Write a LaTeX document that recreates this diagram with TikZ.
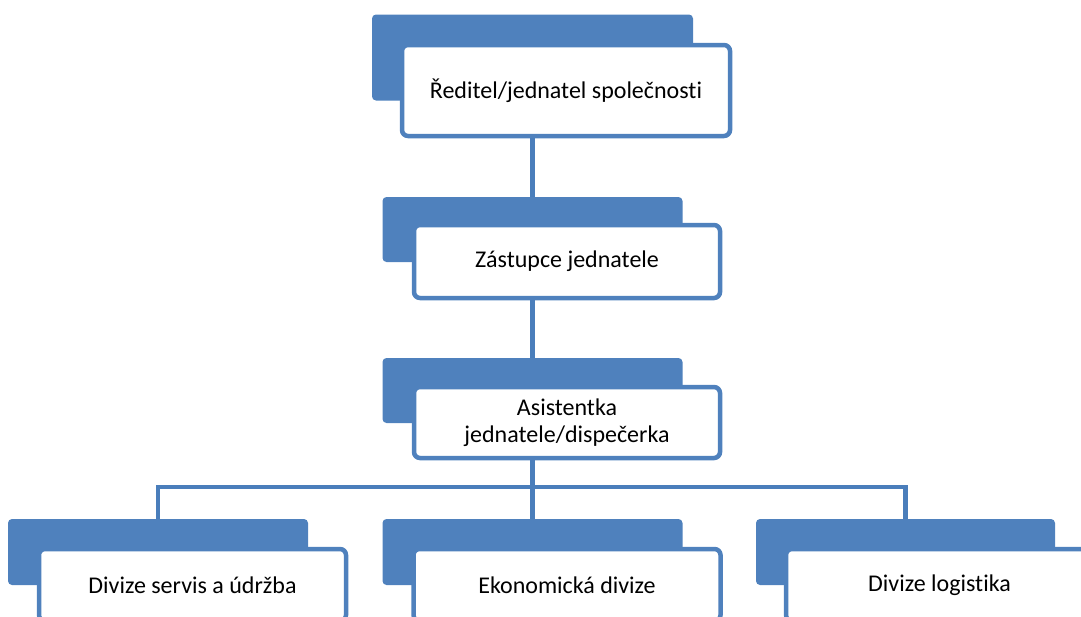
\documentclass[tikz,border=0pt]{standalone}
\usepackage{fontspec}
\setmainfont[Ligatures=NoCommon]{Carlito}
\definecolor{accblue}{HTML}{4F81BD}
\definecolor{linkblue}{HTML}{4A7EBB}
\tikzset{
  backbox/.style={fill=accblue, draw=none, rounded corners=4pt, inner sep=0pt},
  frontbox/.style={fill=white, draw=accblue, line width=4.5pt, rounded corners=6pt, inner sep=0pt, align=center, font=\fontsize{24}{27}\selectfont},
  link/.style={draw=linkblue, line width=4.5pt}
}
\begin{document}
\begin{tikzpicture}[x=1pt,y=-1pt]
\useasboundingbox (0,0) rectangle (1081,616);
\clip (0,0) rectangle (1081,616);
% level 1
\node[backbox, minimum width=321pt, minimum height=86pt] (b1) at (532.5,57.5) {};
\node[frontbox, minimum width=328pt, minimum height=91pt] (w1) at (566,90.5) {Ředitel/jednatel společnosti};
% level 2
\node[backbox, minimum width=300pt, minimum height=65pt] (b2) at (532.5,229.5) {};
\node[frontbox, minimum width=306pt, minimum height=73pt] (w2) at (567,261.5) {Zástupce jednatele};
% level 3
\node[backbox, minimum width=300pt, minimum height=65pt] (b3) at (532.5,390.5) {};
\node[frontbox, minimum width=306pt, minimum height=71pt] (w3) at (567,422.5) {Asistentka\\jednatele/dispečerka};
% level 4
\node[backbox, minimum width=300pt, minimum height=66pt] (b4) at (158,552) {};
\node[frontbox, minimum width=307pt, minimum height=72pt] (w4) at (192.5,585) {Divize servis a údržba};
\node[backbox, minimum width=300pt, minimum height=66pt] (b5) at (532.5,552) {};
\node[frontbox, minimum width=307pt, minimum height=72pt] (w5) at (567,585) {Ekonomická divize};
\node[backbox, minimum width=299pt, minimum height=66pt] (b6) at (905.5,552) {};
\node[frontbox, minimum width=307pt, minimum height=72pt] (w6) at (939.5,585) {Divize logistika};
% connectors
\coordinate (bar) at (532.5,487);
\draw[link] (w1.south -| b1.south) -- (b2.north);
\draw[link] (w2.south -| b2.south) -- (b3.north);
\draw[link] (w3.south -| b3.south) -- (b5.north);
\draw[link] (b4.north) -- (b4.north |- bar) -- (b6.north |- bar) -- (b6.north);
\end{tikzpicture}
\end{document}
